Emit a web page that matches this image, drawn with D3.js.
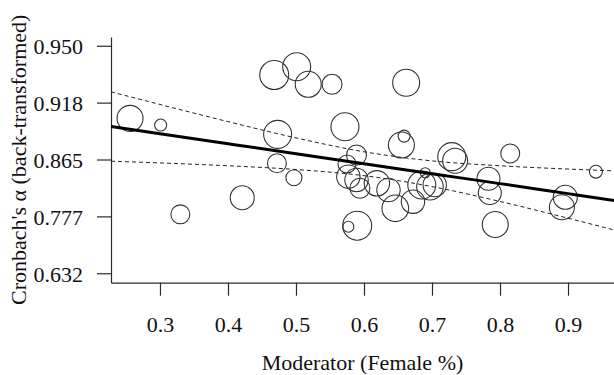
<!DOCTYPE html>
<html>
<head>
<meta charset="utf-8">
<script src="https://cdn.jsdelivr.net/npm/d3@7"></script>
<style>
  body { margin: 0; background: #fff; }
  svg { display: block; font-family: "Liberation Serif", "Times New Roman", serif; }
</style>
</head>
<body>
<figure id="chart" style="margin:0"></figure>
<script>
// moderator (female %) per study
const modX = [0.256, 0.301, 0.468, 0.501, 0.518, 0.553, 0.473, 0.572, 0.662, 0.659,
  0.655, 0.815, 0.941, 0.729, 0.734, 0.783, 0.785, 0.793, 0.590, 0.577,
  0.896, 0.891, 0.472, 0.497, 0.421, 0.330, 0.589, 0.577, 0.589, 0.594,
  0.619, 0.636, 0.646, 0.672, 0.685, 0.697, 0.704, 0.690, 0.575]
// transformed alpha, -ln(1 - alpha)
const alphaT = [2.362, 2.303, 2.743, 2.815, 2.661, 2.661, 2.221, 2.288, 2.675, 2.206,
  2.127, 2.053, 1.893, 2.025, 1.989, 1.831, 1.706, 1.429, 1.418, 1.409,
  1.668, 1.580, 1.967, 1.840, 1.664, 1.518, 2.040, 1.849, 1.820, 1.747,
  1.791, 1.732, 1.571, 1.629, 1.776, 1.761, 1.776, 1.884, 1.960]
// study weights (relative)
const weights = [1.69, 0.36, 2.10, 1.96, 1.69, 1.00, 1.96, 1.96, 1.82, 0.36,
  1.69, 0.90, 0.42, 1.96, 1.56, 1.32, 1.32, 1.69, 2.10, 0.30,
  1.44, 1.56, 0.90, 0.64, 1.44, 0.90, 1.00, 1.37, 1.37, 1.00,
  1.61, 1.37, 1.77, 1.37, 1.96, 1.77, 1.37, 0.25, 0.81]

// fitted line and 95% CI (transformed scale)
const bandX = [0.228, 0.3, 0.4, 0.5, 0.6, 0.7, 0.8, 0.9, 0.968]
const fitT = [2.290, 2.227, 2.139, 2.051, 1.963, 1.875, 1.788, 1.700, 1.640]
const lowerT = [1.985, 1.970, 1.945, 1.912, 1.858, 1.762, 1.631, 1.484, 1.380]
const upperT = [2.595, 2.484, 2.333, 2.190, 2.068, 1.988, 1.945, 1.916, 1.900]

const xTicks = [0.3, 0.4, 0.5, 0.6, 0.7, 0.8, 0.9]
const yTicks = [1, 1.5, 2, 2.5, 3]

const width = 614, height = 375
const plot = { left: 111, right: 614, top: 37, bottom: 282.7 }

const svg = d3.select("#chart").append("svg")
  .attr("width", width)
  .attr("height", height)

const x = d3.scaleLinear().domain([0.228, 0.9676]).range([plot.left, plot.right])
const y = d3.scaleLinear().domain([0.917, 3.077]).range([plot.bottom, plot.top])
const r = d3.scaleSqrt().domain([0, 4]).range([0, 20])

const backFmt = t => d3.format(".3f")(1 - Math.exp(-t))
const ink = "#2b2b2b"

// axes
const yAxis = svg.append("g")
  .attr("transform", `translate(${plot.left},0)`)
  .call(d3.axisLeft(y).tickValues(yTicks).tickFormat(backFmt)
    .tickSize(14).tickSizeOuter(0).tickPadding(14))
yAxis.selectAll("text").attr("dy", "0.36em")

const xAxis = svg.append("g")
  .attr("transform", `translate(0,${plot.bottom})`)
  .call(d3.axisBottom(x).tickValues(xTicks).tickFormat(d3.format(".1f"))
    .tickSize(13).tickSizeOuter(0))
xAxis.selectAll("text").attr("y", 49).attr("dy", 0)

svg.selectAll(".domain, .tick line").attr("stroke", ink).attr("stroke-width", 1.2)
svg.selectAll(".tick text")
  .attr("fill", "#111")
  .style("font-size", "22px")
  .style("font-family", "'Liberation Serif', serif")

// axis titles
svg.append("text")
  .attr("x", (plot.left + plot.right) / 2)
  .attr("y", 370)
  .attr("text-anchor", "middle")
  .attr("fill", "#111")
  .style("font-size", "22px")
  .text("Moderator (Female %)")

svg.append("text")
  .attr("transform", `translate(26,${(plot.top + plot.bottom) / 2}) rotate(-90)`)
  .attr("text-anchor", "middle")
  .attr("fill", "#111")
  .style("font-size", "22px")
  .text("Cronbach's \u03b1 (back-transformed)")

// plot region clip
svg.append("clipPath").attr("id", "clip")
  .append("rect")
  .attr("x", plot.left).attr("y", plot.top)
  .attr("width", plot.right - plot.left).attr("height", plot.bottom - plot.top)

const g = svg.append("g").attr("clip-path", "url(#clip)")

const band = bandX.map((d, i) => ({ x: d, fit: fitT[i], lo: lowerT[i], hi: upperT[i] }))

const curve = key => d3.line()
  .x(d => x(d.x))
  .y(d => y(d[key]))
  .curve(d3.curveMonotoneX)

// bubbles
const points = modX.map((d, i) => ({ x: d, t: alphaT[i], w: weights[i] }))
g.selectAll("circle").data(points)
  .join("circle")
  .attr("cx", d => x(d.x))
  .attr("cy", d => y(d.t))
  .attr("r", d => r(d.w))
  .attr("fill", "none")
  .attr("stroke", "#333")
  .attr("stroke-width", 1.1)

g.selectAll("path.ci").data(["lo", "hi"])
  .join("path")
  .attr("class", "ci")
  .attr("d", k => curve(k)(band))
  .attr("fill", "none")
  .attr("stroke", "#222")
  .attr("stroke-width", 1)
  .attr("stroke-dasharray", "4,3")

g.append("path")
  .attr("d", curve("fit")(band))
  .attr("fill", "none")
  .attr("stroke", "#000")
  .attr("stroke-width", 3)
</script>
</body>
</html>
